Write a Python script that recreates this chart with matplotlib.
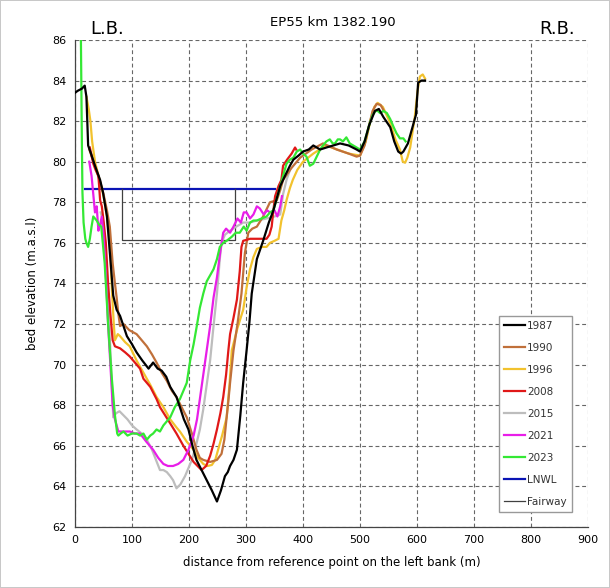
"""Cross-section EP55 km 1382.190, bed elevation by survey year."""
import matplotlib
matplotlib.use("Agg")
import matplotlib.pyplot as plt

# survey profiles: (distance from left bank [m], bed elevation [m a.s.l.])
P1987 = [(0, 83.4), (5, 83.5), (12, 83.6), (17, 83.75), (20, 83.2), (23, 80.8), (28, 80.4),
         (35, 79.8), (44, 79.1), (49, 78.5), (56, 77.3), (62, 75.2), (67, 73.4), (73, 72.7),
         (79, 72.4), (85, 71.9), (91, 71.4), (100, 71.0), (108, 70.6), (118, 70.2), (129, 69.8),
         (137, 70.1), (145, 69.8), (152, 69.7), (160, 69.4), (167, 68.9), (178, 68.4), (184, 67.9),
         (191, 67.3), (199, 66.8), (206, 66.0), (213, 65.3), (222, 64.8), (231, 64.3), (240, 63.8),
         (249, 63.25), (256, 63.8), (263, 64.5), (268, 64.7), (272, 65.0), (278, 65.3), (284, 65.8),
         (290, 67.5), (295, 69.1), (301, 70.7), (306, 72.1), (310, 73.5), (319, 75.2), (330, 76.1),
         (340, 77.0), (348, 77.6), (360, 78.8), (370, 79.4), (377, 79.8), (383, 80.1), (392, 80.3),
         (400, 80.5), (410, 80.6), (418, 80.8), (430, 80.6), (441, 80.7), (453, 80.8), (465, 80.9),
         (480, 80.8), (494, 80.6), (500, 80.5), (508, 81.0), (516, 81.8), (526, 82.5), (533, 82.6),
         (541, 82.2), (553, 81.7), (560, 81.0), (567, 80.5), (572, 80.4), (576, 80.5), (584, 80.9),
         (591, 81.6), (598, 82.3), (602, 83.9), (608, 84.0), (614, 84.0)]

P1990 = [(25, 80.6), (35, 79.8), (44, 79.0), (50, 78.4), (56, 77.6), (61, 76.8), (66, 75.0),
         (70, 74.0), (73, 73.3), (76, 72.5), (79, 71.9), (85, 72.0), (95, 71.7), (108, 71.5),
         (117, 71.2), (126, 70.9), (135, 70.5), (143, 70.1), (152, 69.6), (161, 69.2), (170, 68.7),
         (178, 68.4), (187, 67.9), (196, 67.4), (205, 66.6), (213, 65.8), (219, 65.4), (225, 65.3),
         (237, 65.2), (249, 65.3), (257, 65.6), (262, 66.3), (266, 67.4), (269, 68.2), (272, 69.1),
         (278, 70.7), (285, 72.0), (292, 73.5), (298, 75.5), (304, 76.5), (311, 76.7), (319, 76.8),
         (330, 77.3), (342, 78.0), (354, 78.1), (360, 78.6), (365, 79.1), (380, 79.7), (395, 80.2),
         (415, 80.6), (435, 80.9), (459, 80.6), (480, 80.4), (494, 80.25), (500, 80.3), (508, 80.8),
         (516, 81.8), (522, 82.5), (529, 82.85), (536, 82.8), (542, 82.5)]

P1996 = [(20, 83.2), (24, 82.6), (27, 82.0), (30, 81.0), (35, 80.0), (44, 79.0), (50, 78.3),
         (56, 77.3), (61, 76.0), (65, 73.5), (68, 72.0), (70, 71.2), (75, 71.5), (79, 71.4),
         (88, 71.1), (96, 70.9), (108, 70.2), (120, 69.6), (132, 69.0), (143, 68.4), (155, 67.9),
         (167, 67.3), (178, 66.9), (184, 66.7), (196, 66.2), (208, 65.8), (216, 65.4), (225, 65.1),
         (232, 65.0), (240, 65.05), (246, 65.3), (251, 65.8), (258, 66.5), (266, 67.4), (271, 69.0),
         (275, 70.7), (285, 71.8), (295, 72.7), (301, 73.8), (307, 74.7), (313, 75.3), (319, 75.7),
         (328, 75.8), (336, 75.8), (342, 76.0), (350, 76.1), (357, 76.2), (362, 77.1), (367, 77.6),
         (371, 78.1), (377, 78.7), (382, 79.1), (390, 79.6), (400, 80.0), (418, 80.4), (440, 80.8),
         (460, 80.6), (480, 80.4), (500, 80.3), (510, 81.0), (518, 82.0), (525, 82.7), (531, 82.9),
         (540, 82.7), (553, 81.9), (562, 81.1), (570, 80.6), (575, 80.0), (579, 79.95), (583, 80.2),
         (588, 80.7), (596, 82.2), (601, 83.5), (605, 84.2), (610, 84.3), (614, 84.1)]

P2008 = [(26, 80.7), (29, 80.3), (32, 79.9), (36, 79.6), (41, 79.3), (44, 78.1), (47, 77.8),
         (50, 77.1), (54, 76.0), (58, 74.0), (62, 72.5), (66, 71.2), (70, 70.9), (79, 70.8),
         (88, 70.6), (96, 70.4), (105, 70.1), (114, 69.8), (120, 69.3), (132, 68.9), (143, 68.3),
         (149, 67.9), (158, 67.5), (167, 67.1), (178, 66.6), (190, 66.0), (199, 65.6), (208, 65.2),
         (215, 65.0), (222, 64.8), (230, 65.0), (237, 65.5), (243, 66.1), (249, 66.8), (255, 67.6),
         (260, 68.4), (265, 69.5), (269, 70.7), (272, 71.5), (278, 72.3), (284, 73.2), (289, 74.6),
         (292, 75.8), (295, 76.1), (307, 76.2), (319, 76.2), (336, 76.2), (341, 76.4), (345, 76.8),
         (348, 77.6), (351, 78.3), (357, 78.8), (362, 79.1), (365, 79.8), (372, 80.1), (380, 80.4),
         (386, 80.7), (388, 80.6)]

P2015 = [(45, 77.5), (50, 77.0), (55, 75.0), (60, 72.0), (64, 69.5), (67, 67.4), (72, 67.6),
         (78, 67.7), (85, 67.5), (92, 67.3), (100, 67.0), (108, 66.8), (117, 66.6), (126, 66.3),
         (135, 65.8), (142, 65.3), (149, 64.8), (155, 64.8), (161, 64.7), (167, 64.5), (172, 64.3),
         (178, 63.9), (185, 64.1), (193, 64.5), (199, 64.9), (205, 65.3), (213, 66.1), (219, 66.8),
         (225, 67.8), (231, 69.0), (237, 70.2), (243, 71.9), (249, 73.5), (254, 75.2), (257, 76.0),
         (263, 76.4), (272, 76.6), (283, 76.8), (295, 77.0), (307, 77.0), (319, 77.1), (336, 77.2),
         (350, 77.3), (360, 77.4), (365, 78.4), (371, 79.1), (376, 79.5)]

P2021 = [(25, 80.0), (29, 79.3), (32, 78.4), (35, 77.5), (38, 77.8), (41, 76.6), (44, 76.9),
         (47, 77.3), (50, 76.4), (54, 74.5), (58, 72.0), (62, 70.0), (66, 68.0), (70, 67.3),
         (76, 66.7), (85, 66.7), (96, 66.7), (105, 66.6), (114, 66.6), (125, 66.2), (137, 65.8),
         (146, 65.4), (155, 65.1), (163, 65.0), (172, 65.0), (181, 65.1), (190, 65.3), (199, 65.8),
         (208, 66.5), (214, 67.3), (219, 68.3), (225, 69.5), (231, 70.7), (237, 71.9), (243, 73.3),
         (249, 74.3), (255, 75.6), (260, 76.5), (265, 76.7), (272, 76.5), (278, 76.8), (285, 77.2),
         (291, 77.0), (296, 77.5), (301, 77.5), (307, 77.2), (313, 77.4), (319, 77.8), (324, 77.7),
         (331, 77.4), (337, 77.6), (342, 77.5), (350, 77.6), (355, 77.3), (360, 77.8), (363, 78.3)]

P2023 = [(10, 87.0), (11, 84.0), (12, 81.0), (13, 78.5), (15, 77.0), (18, 76.2), (20, 76.0),
         (23, 75.8), (26, 76.2), (29, 76.8), (32, 77.3), (35, 77.2), (38, 77.1), (42, 76.9),
         (46, 76.8), (52, 75.0), (58, 72.0), (64, 69.5), (70, 67.5), (74, 66.6), (76, 66.5),
         (80, 66.6), (85, 66.7), (92, 66.5), (100, 66.6), (108, 66.6), (114, 66.5), (120, 66.6),
         (126, 66.3), (132, 66.5), (137, 66.6), (143, 66.8), (149, 66.7), (155, 67.0), (161, 67.2),
         (167, 67.4), (175, 67.9), (184, 68.3), (190, 68.7), (196, 69.1), (202, 70.2), (208, 71.0),
         (213, 71.8), (219, 72.8), (225, 73.5), (231, 74.1), (237, 74.4), (243, 74.7), (249, 75.2),
         (254, 75.8), (260, 76.0), (266, 76.1), (275, 76.3), (282, 76.5), (289, 76.5), (296, 76.8),
         (301, 76.6), (307, 77.0), (313, 77.1), (319, 77.1), (327, 77.2), (336, 77.3), (342, 77.5),
         (348, 77.6), (354, 78.2), (360, 78.8), (366, 79.4), (371, 79.9), (377, 80.1), (383, 80.2),
         (389, 80.5), (395, 80.6), (400, 80.4), (406, 80.25), (412, 79.8), (418, 79.9), (424, 80.25),
         (430, 80.6), (435, 80.8), (441, 81.0), (447, 81.1), (452, 80.9), (456, 80.9), (461, 81.1),
         (465, 81.1), (470, 81.0), (476, 81.2), (482, 80.9), (488, 80.8), (494, 80.7), (500, 80.6),
         (508, 81.0), (516, 81.8), (522, 82.3), (529, 82.55), (535, 82.4), (541, 82.5), (547, 82.4),
         (553, 82.1), (559, 81.7), (564, 81.4), (570, 81.15), (576, 81.15), (580, 81.0)]

# low navigation water level and fairway outline
LNWL = [(18, 78.65), (351, 78.65)]
FAIRWAY = [(82, 78.65), (82, 76.15), (281, 76.15), (281, 78.65)]

SERIES = [("1987", P1987, "black"), ("1990", P1990, "#C0703A"), ("1996", P1996, "#F2C22E"),
          ("2008", P2008, "#E01818"), ("2015", P2015, "#BDBDBD"), ("2021", P2021, "#E81EE8"),
          ("2023", P2023, "#34E834")]
ZORDERS = {"1987": 9, "1990": 5, "1996": 4, "2008": 6, "2015": 3, "2021": 7, "2023": 8}

fig = plt.figure(figsize=(6.1, 5.88), dpi=100, edgecolor="#c8c8c8", linewidth=1.2)
ax = fig.add_axes([0.123, 0.104, 0.841, 0.828])

for label, pts, col in SERIES:
    xs, ys = zip(*pts)
    ax.plot(xs, ys, color=col, lw=1.6, label=label, zorder=ZORDERS[label])

xs, ys = zip(*LNWL)
ax.plot(xs, ys, color="#0A14B4", lw=1.6, label="LNWL", zorder=2)
xs, ys = zip(*FAIRWAY)
ax.plot(xs, ys, color="#404040", lw=0.9, label="Fairway", zorder=2)

ax.set_xlim(0, 900)
ax.set_ylim(62, 86)
ax.set_xticks(range(0, 901, 100))
ax.set_yticks(range(62, 87, 2))
ax.tick_params(length=0, labelsize=8, pad=6)
ax.grid(True, color="#666666", ls=(0, (3.5, 2.5)), lw=0.8)
for side in ("top", "right"):
    ax.spines[side].set_visible(False)
for side in ("left", "bottom"):
    ax.spines[side].set_color("#444444")
    ax.spines[side].set_linewidth(0.9)

ax.set_xlabel("distance from reference point on the left bank (m)", fontsize=8.5, labelpad=8)
ax.set_ylabel("bed elevation (m.a.s.l)", fontsize=8.5, labelpad=10)

fig.text(0.546, 0.962, "EP55 km 1382.190", ha="center", va="center", fontsize=9.5)
fig.text(0.176, 0.951, "L.B.", ha="center", va="center", fontsize=13)
fig.text(0.913, 0.951, "R.B.", ha="center", va="center", fontsize=13)

leg = ax.legend(loc="lower right", bbox_to_anchor=(0.969, 0.031), borderaxespad=0,
                fontsize=7.5, frameon=True, fancybox=False, edgecolor="#999999", framealpha=1,
                handlelength=2.0, handletextpad=0.2, labelspacing=1.15, borderpad=0.5)
leg.set_zorder(20)
for t in leg.get_texts():
    t.set_color("#333333")

fig.savefig("out.png", dpi=100, edgecolor=fig.get_edgecolor())
